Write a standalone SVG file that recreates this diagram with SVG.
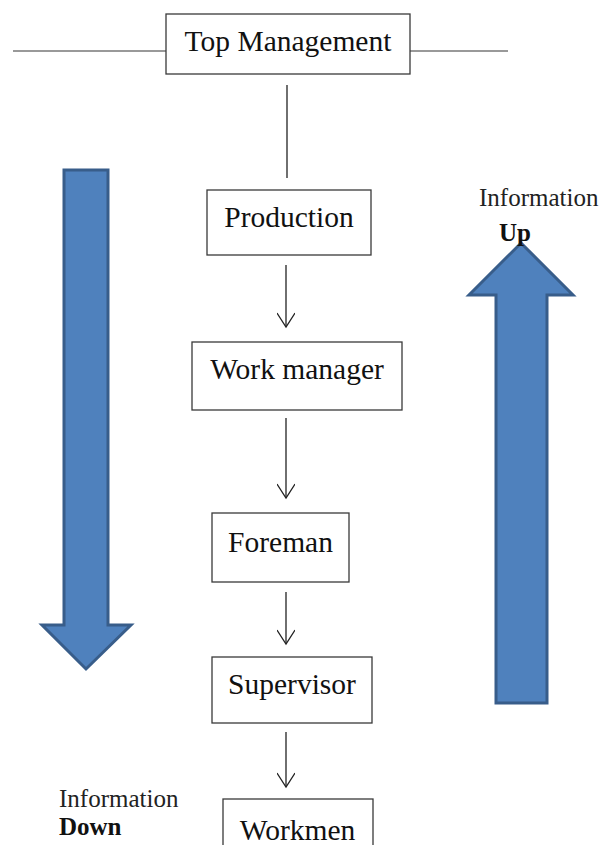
<svg xmlns="http://www.w3.org/2000/svg" width="602" height="845" viewBox="0 0 602 845">
<style>
.box{fill:#fff;stroke:#3a3a3a;stroke-width:1.3}
.lbl{font-family:"Liberation Serif","Times New Roman",serif;font-size:29.5px;fill:#111;text-anchor:middle}
.info{font-family:"Liberation Serif","Times New Roman",serif;font-size:25px;fill:#222}
.bold{font-weight:bold;fill:#111}
.conn{stroke:#222;stroke-width:1.3;fill:none}
.big{fill:#4F81BD;stroke:#385D8A;stroke-width:3}
</style>
<defs>
<marker id="vee" markerWidth="22" markerHeight="18" refX="18" refY="9" orient="auto" markerUnits="userSpaceOnUse">
<path d="M4,0 L18,9 L4,18" fill="none" stroke="#222" stroke-width="1.3"/>
</marker>
</defs>
<rect width="602" height="845" fill="#fff"/>
<g id="connectors">
<line x1="13" y1="51" x2="166" y2="51" stroke="#999" stroke-width="2"/>
<line x1="410" y1="51" x2="508" y2="51" stroke="#999" stroke-width="2"/>
<line class="conn" x1="287" y1="85" x2="287" y2="178"/>
<line class="conn" x1="286" y1="265" x2="286" y2="327" marker-end="url(#vee)"/>
<line class="conn" x1="286" y1="418" x2="286" y2="498" marker-end="url(#vee)"/>
<line class="conn" x1="286" y1="592" x2="286" y2="644" marker-end="url(#vee)"/>
<line class="conn" x1="286" y1="732" x2="286" y2="787" marker-end="url(#vee)"/>
</g>
<g id="top-management">
<rect class="box" x="166" y="14" width="244" height="60"/>
<text class="lbl" x="288" y="51">Top Management</text>
</g>
<g id="production">
<rect class="box" x="207" y="190" width="164" height="65"/>
<text class="lbl" x="289" y="227">Production</text>
</g>
<g id="work-manager">
<rect class="box" x="192" y="342" width="210" height="68"/>
<text class="lbl" x="297" y="379">Work manager</text>
</g>
<g id="foreman">
<rect class="box" x="212" y="513" width="137" height="69"/>
<text class="lbl" x="280.5" y="552">Foreman</text>
</g>
<g id="supervisor">
<rect class="box" x="212" y="657" width="160" height="66"/>
<text class="lbl" x="292" y="694">Supervisor</text>
</g>
<g id="workmen">
<rect class="box" x="223" y="799" width="150" height="60"/>
<text class="lbl" x="297.5" y="840">Workmen</text>
</g>
<g id="info-down">
<polygon class="big" points="64,170 108,170 108,625 131,625 86,669 42,625 64,625"/>
<text class="info" x="59" y="807">Information</text>
<text class="info bold" x="59" y="835" font-size="24">Down</text>
</g>
<g id="info-up">
<polygon class="big" points="521,243 573,295 547,295 547,703 496,703 496,295 469,295"/>
<text class="info" x="479" y="206">Information</text>
<text class="info bold" x="499" y="241" font-size="23">Up</text>
</g>
</svg>
